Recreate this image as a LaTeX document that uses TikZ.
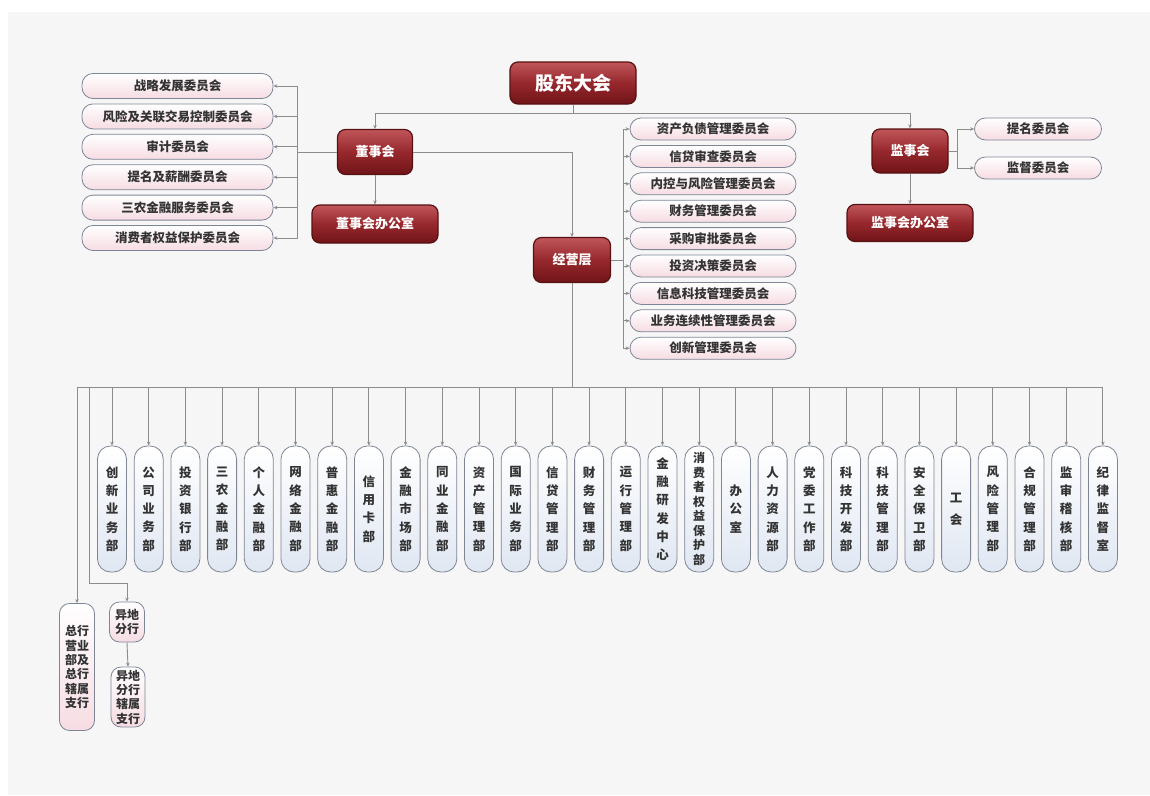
\documentclass[tikz,border=0pt]{standalone}
\usepackage{fontspec}
\setmainfont{Noto Sans CJK SC}
\usepackage{xcolor}
\usetikzlibrary{arrows.meta, positioning, calc}
\definecolor{RedTop}{RGB}{192,86,90}
\definecolor{RedMid}{RGB}{150,40,45}
\definecolor{RedBot}{RGB}{112,20,24}
\definecolor{RedEdge}{RGB}{88,16,18}
\definecolor{PinkFill}{RGB}{246,220,227}
\definecolor{BlueFill}{RGB}{224,231,242}
\definecolor{SoftEdge}{RGB}{126,134,150}
\definecolor{WireGray}{RGB}{140,140,140}
\definecolor{PageGray}{RGB}{246,246,246}

\tikzset{
  wire/.style={draw=WireGray, line width=0.9pt},
  arr/.style={wire, -{Stealth[length=4pt, width=3.5pt]}},
  head/.style={draw=RedEdge, line width=1.2pt, rounded corners=8pt,
    top color=RedTop, bottom color=RedBot, middle color=RedMid,
    text=white, inner sep=0pt, font=\bfseries\fontsize{13}{15}\selectfont},
  pinkbox/.style={draw=SoftEdge, line width=0.8pt, rounded corners=11pt,
    top color=white, bottom color=PinkFill, text=black!80, inner sep=0pt,
    font=\bfseries\fontsize{12.5}{14}\selectfont},
  deptbox/.style={draw=SoftEdge, line width=0.8pt, rounded corners=13pt,
    top color=white, bottom color=BlueFill, text=black!80, inner sep=0pt,
    minimum width=29pt, minimum height=126pt, align=center,
    font=\bfseries\fontsize{12.5}{18.3}\selectfont},
  plain/.style={},
  dense/.style={font=\bfseries\fontsize{12}{14.5}\selectfont},
  loose/.style={font=\bfseries\fontsize{12.5}{22}\selectfont},
  branchbox/.style={pinkbox, rounded corners=10pt, minimum width=35pt,
    align=center, font=\bfseries\fontsize{12}{14.3}\selectfont}
}

\begin{document}
\begin{tikzpicture}[x=1pt, y=-1pt]
    % 页面底色
    \fill[white] (0,0) rectangle (1150,795);
    \fill[PageGray] (8,12) rectangle (1150,795);

    % 股东大会、董事会、监事会、经营层
    \node[head, font=\bfseries\fontsize{19}{21}\selectfont, minimum width=126pt, minimum height=42pt] (gm) at (573,83) {股东大会};
    \node[head, minimum width=75pt, minimum height=45pt] (board) at (375,152) {董事会};
    \node[head, minimum width=126pt, minimum height=38pt] (boardoff) at (375,224) {董事会办公室};
    \node[head, minimum width=77pt, minimum height=45pt] (mgmt) at (572,260) {经营层};
    \node[head, minimum width=76pt, minimum height=44pt] (sup) at (910,151) {监事会};
    \node[head, minimum width=126pt, minimum height=37pt] (supoff) at (910,223) {监事会办公室};

    % 董事会专门委员会
    \foreach \t [count=\i] in {战略发展委员会, 风险及关联交易控制委员会, 审计委员会, 提名及薪酬委员会, 三农金融服务委员会, 消费者权益保护委员会}
        \node[pinkbox, minimum width=191pt, minimum height=25pt] (bc\i) at (177.5,{86+30.4*(\i-1)}) {\t};

    % 经营层委员会
    \foreach \t [count=\i] in {资产负债管理委员会, 信贷审查委员会, 内控与风险管理委员会, 财务管理委员会, 采购审批委员会, 投资决策委员会, 信息科技管理委员会, 业务连续性管理委员会, 创新管理委员会}
        \node[pinkbox, minimum width=166pt, minimum height=22pt] (mc\i) at (713,{129+27.4*(\i-1)}) {\t};

    % 监事会专门委员会
    \node[pinkbox, minimum width=127pt, minimum height=22pt] (rc1) at (1038,129) {提名委员会};
    \node[pinkbox, minimum width=127pt, minimum height=22pt] (rc2) at (1038,168) {监督委员会};

    % 上层连线
    \coordinate (split) at ($(gm.south)+(0,9)$);
    \draw[wire] (gm.south) -- (split);
    \draw[arr] (split) -| (board.north);
    \draw[arr] (split) -| (sup.north);
    \draw[arr] (board.east) -| (mgmt.north);
    \draw[arr] (board.south) -- (boardoff.north);
    \draw[arr] (sup.south) -- (supoff.north);
    \coordinate (lbar) at (297,152);
    \foreach \i in {1,...,6}
        \draw[arr] (board.west) -- (lbar) |- (bc\i.east);
    \coordinate (mbar) at (623,260);
    \foreach \i in {1,...,9}
        \draw[arr] (mgmt.east) -- (mbar) |- (mc\i.west);
    \coordinate (rbar) at (957,151);
    \foreach \i in {1,2}
        \draw[arr] (sup.east) -- (rbar) |- (rc\i.west);

    % 总行部门
    \coordinate (bus) at (572,387);
    \draw[wire] (mgmt.south) -- (bus);
    \foreach \o/\t [count=\i from 0] in {
        plain/{创\\新\\业\\务\\部}, plain/{公\\司\\业\\务\\部}, plain/{投\\资\\银\\行\\部}, plain/{三\\农\\金\\融\\部},
        plain/{个\\人\\金\\融\\部}, plain/{网\\络\\金\\融\\部}, plain/{普\\惠\\金\\融\\部}, plain/{信\\用\\卡\\部},
        plain/{金\\融\\市\\场\\部}, plain/{同\\业\\金\\融\\部}, plain/{资\\产\\管\\理\\部}, plain/{国\\际\\业\\务\\部},
        plain/{信\\贷\\管\\理\\部}, plain/{财\\务\\管\\理\\部}, plain/{运\\行\\管\\理\\部}, plain/{金\\融\\研\\发\\中\\心},
        dense/{消\\费\\者\\权\\益\\保\\护\\部}, plain/{办\\公\\室},
        plain/{人\\力\\资\\源\\部}, plain/{党\\委\\工\\作\\部}, plain/{科\\技\\开\\发\\部}, plain/{科\\技\\管\\理\\部},
        plain/{安\\全\\保\\卫\\部}, loose/{工\\会}, plain/{风\\险\\管\\理\\部},
        plain/{合\\规\\管\\理\\部}, plain/{监\\审\\稽\\核\\部}, plain/{纪\\律\\监\\督\\室}} {
        \node[deptbox, \o] (d\i) at ({112+36.7*\i},509) {\t};
        \draw[arr] (bus) -| (d\i.north);
    }

    % 营业部与分行
    \node[branchbox, minimum height=127pt] (hq) at (77,667) {总行\\营业\\部及\\总行\\辖属\\支行};
    \node[branchbox, minimum height=40pt] (br) at (127,622) {异地\\分行};
    \node[branchbox, minimum width=34pt, minimum height=60pt] (brsub) at (128,697) {异地\\分行\\辖属\\支行};
    \coordinate (brturn) at (89,583);
    \draw[arr] (bus) -| (hq.north);
    \draw[arr] (bus) -| (brturn) -| (br.north);
    \draw[arr] (br.south) -- (brsub.north);
\end{tikzpicture}
\end{document}
